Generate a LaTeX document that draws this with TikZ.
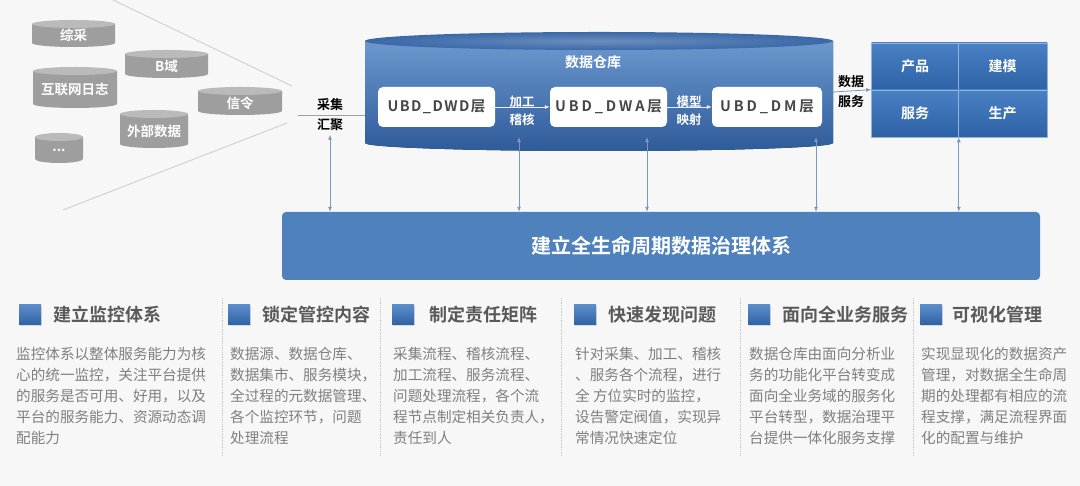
\documentclass[tikz,border=0pt]{standalone}
\usepackage{fontspec}
\setmainfont{Noto Sans CJK SC}[BoldFont={Noto Sans CJK SC Bold}]
\usepackage{xcolor}
\usepackage{tikz}
\usetikzlibrary{positioning, arrows.meta, shadows}
\definecolor{pagegrey}{HTML}{F7F7F7}
\definecolor{funnelgrey}{HTML}{D2D2D2}
\definecolor{diskbody}{HTML}{9E9E9E}
\definecolor{disktop}{HTML}{BABABA}
\definecolor{whtop}{HTML}{6C98CF}
\definecolor{whbottom}{HTML}{2E5B99}
\definecolor{whlid}{HTML}{3A68A8}
\definecolor{gridtop}{HTML}{4A80C4}
\definecolor{gridbottom}{HTML}{2E62A5}
\definecolor{barblue}{HTML}{4F81BD}
\definecolor{linkblue}{HTML}{7D98C0}
\definecolor{headgrey}{HTML}{595959}
\definecolor{bodygrey}{HTML}{7F7F7F}
\definecolor{sepgrey}{HTML}{C4C4C4}

% grey source disk: name, left, top, width, height, text
\newcommand{\srcdisk}[6]{%
  \begin{scope}[shift={(#2,#3)}]
    \fill[diskbody] (0,-4) -- (0,-#5+4) arc[start angle=180, end angle=360, x radius=#4/2, y radius=4] -- (#4,-4) -- cycle;
    \fill[disktop] (#4/2,-4) ellipse[x radius=#4/2, y radius=4];
    \node[disklabel] (#1) at (#4/2,-#5/2-2) {#6};
  \end{scope}}

\begin{document}
\begin{tikzpicture}[x=1pt, y=1pt, >={Latex[length=5pt, width=4pt]},
  disklabel/.style={text=white, font=\bfseries\fontsize{13.5}{13.5}\selectfont, inner sep=0pt},
  layerbox/.style={fill=white, rounded corners=5pt, minimum width=117pt, minimum height=40pt,
    text=black!72, font=\bfseries\fontsize{14.5}{14.5}\selectfont\addfontfeature{LetterSpace=20}},
  flowtag/.style={text=white, font=\bfseries\fontsize{12.5}{18}\selectfont, align=center},
  darktag/.style={text=black, font=\bfseries\fontsize{13}{20}\selectfont, align=center},
  gridcell/.style={top color=gridtop, bottom color=gridbottom, draw=gridtop!60!white, line width=0.6pt,
    minimum width=87pt, minimum height=47pt, text=white, font=\bfseries\fontsize{14}{14}\selectfont},
  link/.style={draw=linkblue, line width=0.8pt, ->},
  icon/.style={top color=gridtop!90!white, bottom color=gridbottom, minimum width=22pt, minimum height=20pt,
    inner sep=0pt, drop shadow={opacity=0.25, shadow xshift=1pt, shadow yshift=-1pt}},
  heading/.style={text=headgrey, font=\bfseries\fontsize{18}{18}\selectfont, inner sep=0pt},
  bodytext/.style={anchor=north west, text=bodygrey, font=\fontsize{14.6}{21}\selectfont, align=left, inner sep=0pt},
  colsep/.style={sepgrey, densely dotted, line width=0.8pt}]

\fill[pagegrey] (0,0) rectangle (1080,486);
\useasboundingbox (0,0) rectangle (1080,486);

% funnel of sources
\coordinate (funtopA) at (113,486);
\coordinate (funtopB) at (292,400);
\coordinate (funlowA) at (287,363);
\coordinate (funlowB) at (63,276);
\draw[funnelgrey, line width=1pt] (funtopA) -- (funtopB);
\draw[funnelgrey, line width=1pt] (funlowA) -- (funlowB);

\srcdisk{zongcai}{32}{466}{83}{27}{综采}
\srcdisk{bdomain}{125}{436}{83}{28}{B域}
\srcdisk{weblog}{33}{419}{84}{41}{互联网日志}
\srcdisk{signal}{198}{399}{84}{28}{信令}
\srcdisk{extdata}{120}{376}{68}{38}{外部数据}
\srcdisk{moresrc}{35}{353}{48}{30}{...}

% warehouse
\fill[top color=whtop, bottom color=whbottom] (365,445) -- (365,343)
  arc[start angle=180, end angle=360, x radius=234, y radius=8] -- (833,445) -- cycle;
\shade[inner color=whlid!75!white, outer color=whlid] (599,445) ellipse[x radius=234, y radius=9];
\node[text=white, font=\bfseries\fontsize{14}{14}\selectfont] (whtitle) at (593,424) {数据仓库};
\coordinate (whwest) at (365,371);
\coordinate (wheast) at (833,394);
\coordinate (whfootA) at (519,349);
\coordinate (whfootB) at (647,349);
\coordinate (whfootC) at (816,349);

\node[layerbox, font=\bfseries\fontsize{14.5}{14.5}\selectfont\addfontfeature{LetterSpace=10}] (dwd) at (436.5,379) {UBD\_DWD层};
\node[layerbox] (dwa) at (608.5,379) {UBD\_DWA层};
\node[layerbox, minimum width=110pt] (dm) at (767,379) {UBD\_DM层};
\draw[link, draw=white!85!linkblue] (dwd) -- (dwa);
\draw[link, draw=white!85!linkblue] (dwa) -- (dm);
\node[flowtag] (proctag) at (522,375) {加工\\稽核};
\node[flowtag] (maptag) at (689,375) {模型\\映射};

% services
\node[gridcell] (prod) at (915,419.5) {产品};
\node[gridcell, minimum width=89pt] (model) at (1002.5,419.5) {建模};
\node[gridcell] (serv) at (915,372.5) {服务};
\node[gridcell, minimum width=89pt] (make) at (1002.5,372.5) {生产};
\draw[link] (wheast) -- (serv.north west);
\node[darktag] (servtag) at (851,394) {数据\\服务};

% gathering
\node[darktag] (gather) at (330,371) {采集\\汇聚};
\coordinate (gatherline) at (298,371);
\draw[gray!75, line width=0.8pt] (gatherline) -- (whwest);

% governance bar
\node[fill=barblue, rounded corners=4pt, minimum width=758pt, minimum height=68pt, text=white,
      font=\bfseries\fontsize{20}{20}\selectfont] (govbar) at (661,240) {建立全生命周期数据治理体系};

\draw[link, <->] (gather.south) -- (gather.south |- govbar.north);
\draw[link, <->] (whfootA) -- (whfootA |- govbar.north);
\draw[link, <->] (whfootB) -- (whfootB |- govbar.north);
\draw[link, <->] (whfootC) -- (whfootC |- govbar.north);
\draw[link, <->] (serv.south east) -- (serv.south east |- govbar.north);

% bottom columns
\draw[colsep] (222,188) -- (222,31);
\draw[colsep] (380,188) -- (380,31);
\draw[colsep] (561,188) -- (561,31);
\draw[colsep] (740,188) -- (740,31);
\draw[colsep] (913,188) -- (913,31);

\node[icon] (iconA) at (30,171) {};
\node[heading, right=12pt of iconA] (headA) {建立监控体系};
\node[bodytext] (bodyA) at (16,139) {监控体系以整体服务能力为核\\
心的统一监控，关注平台提供\\
的服务是否可用、好用，以及\\
平台的服务能力、资源动态调\\
配能力};

\node[icon] (iconB) at (239,171) {};
\node[heading, right=12pt of iconB] (headB) {锁定管控内容};
\node[bodytext] (bodyB) at (230,139) {数据源、数据仓库、\\
数据集市、服务模块，\\
全过程的元数据管理、\\
各个监控环节，问题\\
处理流程};

\node[icon] (iconC) at (403,171) {};
\node[heading, right=15pt of iconC] (headC) {制定责任矩阵};
\node[bodytext] (bodyC) at (393,139) {采集流程、稽核流程、\\
加工流程、服务流程、\\
问题处理流程，各个流\\
程节点制定相关负责人，\\
责任到人};

\node[icon] (iconD) at (585,171) {};
\node[heading, right=12pt of iconD] (headD) {快速发现问题};
\node[bodytext] (bodyD) at (575,139) {针对采集、加工、稽核\\
、服务各个流程，进行\\
全 方位实时的监控，\\
设告警定阀值，实现异\\
常情况快速定位};

\node[icon] (iconE) at (759,171) {};
\node[heading, right=12pt of iconE] (headE) {面向全业务服务};
\node[bodytext] (bodyE) at (749,139) {数据仓库由面向分析业\\
务的功能化平台转变成\\
面向全业务域的服务化\\
平台转型，数据治理平\\
台提供一体化服务支撑};

\node[icon] (iconF) at (931,171) {};
\node[heading, right=10pt of iconF] (headF) {可视化管理};
\node[bodytext] (bodyF) at (921,139) {实现显现化的数据资产\\
管理，对数据全生命周\\
期的处理都有相应的流\\
程支撑，满足流程界面\\
化的配置与维护};
\end{tikzpicture}
\end{document}
